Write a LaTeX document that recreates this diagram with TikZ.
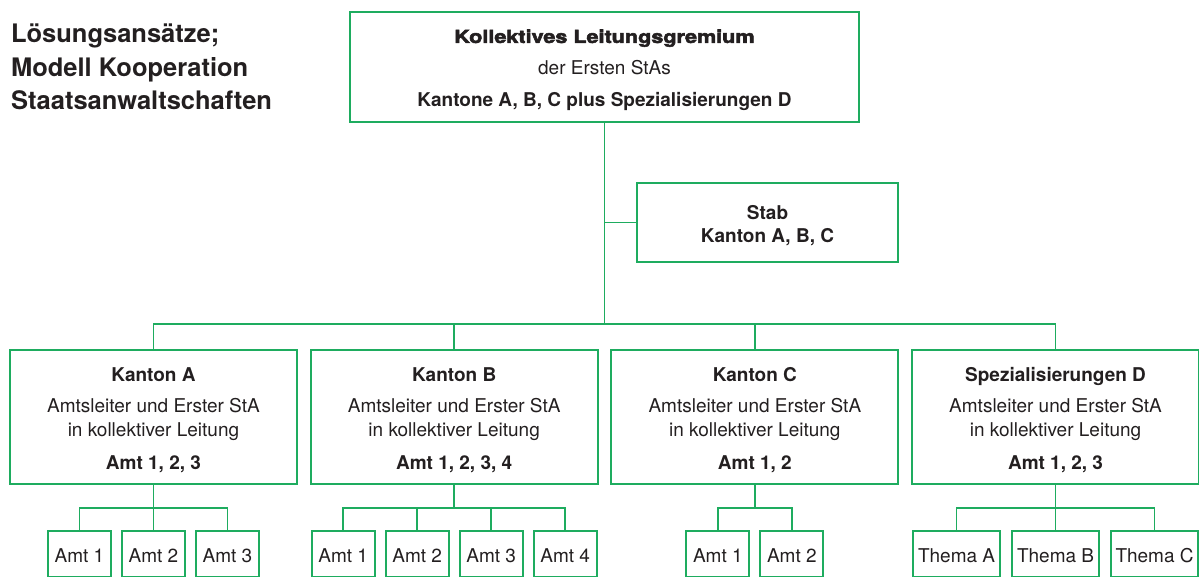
\documentclass[tikz,border=0pt]{standalone}
\usepackage{fontspec}
\setmainfont{TeX Gyre Heros}
\newfontfamily\heavyfont[FakeBold=3,FakeStretch=1.2]{TeX Gyre Heros Bold}
\usepackage{tikz}
\definecolor{orggreen}{RGB}{30,172,95}
\definecolor{ink}{RGB}{35,31,32}

\begin{document}
\begin{tikzpicture}[x=1pt,y=1pt,
	box/.style={draw=orggreen,line width=1.8pt,align=center,text=ink,inner sep=0pt},
	link/.style={draw=orggreen,line width=1.8pt},
	unit/.style={box,minimum width=287pt,minimum height=134pt,font=\fontsize{19}{24}\selectfont},
	office/.style={box,minimum width=63pt,minimum height=46pt,font=\fontsize{19}{22}\selectfont},
	topic/.style={office,minimum width=87pt},
	level 1/.style={sibling distance=300.7pt,level distance=350pt,
		edge from parent path={(\tikzparentnode.south) -- +(0,-201) -| (\tikzchildnode.north)}},
	level 2/.style={sibling distance=74pt,level distance=137pt,
		edge from parent path={(\tikzparentnode.south) -- +(0,-23) -| (\tikzchildnode.north)}},
	edge from parent/.style={link}]
	\useasboundingbox (0,0) rectangle (1199,-577);
	\node[anchor=base west,align=left,text=ink,font=\bfseries\fontsize{25.5}{33.5}\selectfont] (title) at (7.5,-110) {Lösungsansätze;\\Modell Kooperation\\Staatsanwaltschaften};
	\node[box,minimum width=509pt,minimum height=110pt,font=\fontsize{19}{32}\selectfont] (board) at (604.5,-67) {\rule{0pt}{20pt}{\heavyfont\fontsize{18}{32}\selectfont Kollektives Leitungsgremium}\\der Ersten StAs\\{\bfseries Kantone A, B, C plus Spezialisierungen D}}
		child {node[unit] (ka) {\rule{0pt}{20pt}{\bfseries Kanton A}\\[7pt]Amtsleiter und Erster StA\\in kollektiver Leitung\\[9pt]{\bfseries Amt 1, 2, 3}}
			child {node[office] (ka1) {\rule{0pt}{18pt}Amt 1}}
			child {node[office] (ka2) {\rule{0pt}{18pt}Amt 2}}
			child {node[office] (ka3) {\rule{0pt}{18pt}Amt 3}}}
		child {node[unit] (kb) {\rule{0pt}{20pt}{\bfseries Kanton B}\\[7pt]Amtsleiter und Erster StA\\in kollektiver Leitung\\[9pt]{\bfseries Amt 1, 2, 3, 4}}
			child {node[office] (kb1) {\rule{0pt}{18pt}Amt 1}}
			child {node[office] (kb2) {\rule{0pt}{18pt}Amt 2}}
			child {node[office] (kb3) {\rule{0pt}{18pt}Amt 3}}
			child {node[office] (kb4) {\rule{0pt}{18pt}Amt 4}}}
		child {node[unit] (kc) {\rule{0pt}{20pt}{\bfseries Kanton C}\\[7pt]Amtsleiter und Erster StA\\in kollektiver Leitung\\[9pt]{\bfseries Amt 1, 2}}
			child {node[office] (kc1) {\rule{0pt}{18pt}Amt 1}}
			child {node[office] (kc2) {\rule{0pt}{18pt}Amt 2}}}
		child {node[unit] (kd) {\rule{0pt}{20pt}{\bfseries Spezialisierungen D}\\[7pt]Amtsleiter und Erster StA\\in kollektiver Leitung\\[9pt]{\bfseries Amt 1, 2, 3}}
			child[sibling distance=99pt] {node[topic] (kd1) {\rule{0pt}{18pt}Thema A}}
			child[sibling distance=99pt] {node[topic] (kd2) {\rule{0pt}{18pt}Thema B}}
			child[sibling distance=99pt] {node[topic] (kd3) {\rule{0pt}{18pt}Thema C}}}
	;
	\node[box,minimum width=261pt,minimum height=79pt,font=\bfseries\fontsize{19}{23}\selectfont] (stab) at (767.5,-222.5) {\rule{0pt}{21pt}Stab\\Kanton A, B, C};
	\draw[link] (stab.west) -- (stab.west -| board.south);
\end{tikzpicture}
\end{document}
